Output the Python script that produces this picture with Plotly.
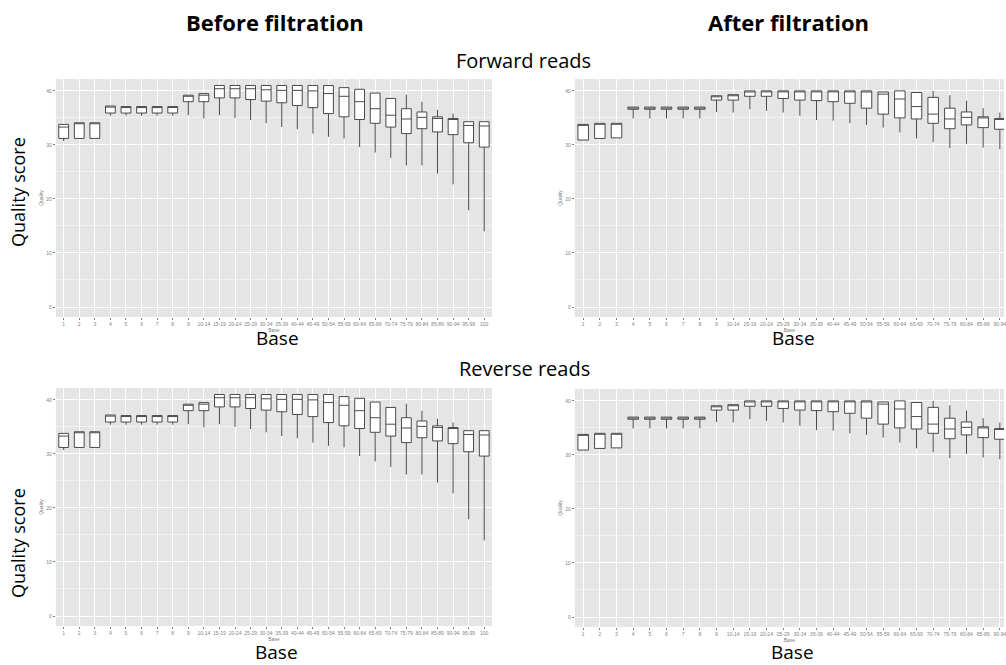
import plotly.graph_objects as go

W, H = 1006, 665

cats = ["1", "2", "3", "4", "5", "6", "7", "8", "9", "10-14", "15-19", "20-24",
        "25-29", "30-34", "35-39", "40-44", "45-49", "50-54", "55-59", "60-64",
        "65-69", "70-74", "75-79", "80-84", "85-89", "90-94", "95-99", "100"]

# Before filtration (quality per base position)
before_q3 = [33.8, 34.1, 34.1, 37.2, 37.1, 37.1, 37.1, 37.1, 39.2, 39.5, 41.0, 41.0, 41.0, 41.0,
             41.0, 41.0, 41.0, 41.0, 40.6, 40.3, 39.6, 38.6, 36.7, 36.1, 35.2, 34.9, 34.3, 34.3]
before_med = [33.3, 34.0, 34.0, 37.0, 37.0, 37.0, 37.0, 37.0, 39.0, 39.2, 40.4, 40.4, 40.4, 40.2,
              40.1, 40.1, 40.0, 39.5, 39.0, 38.0, 36.7, 35.5, 34.8, 35.1, 34.9, 34.7, 33.6, 33.5]
before_q1 = [31.2, 31.2, 31.2, 35.9, 35.9, 35.9, 35.9, 35.9, 38.0, 38.0, 38.7, 38.7, 38.4, 38.1,
             37.8, 37.3, 36.9, 35.8, 35.2, 34.7, 34.0, 33.3, 32.1, 33.0, 32.4, 31.9, 30.4, 29.6]
before_low = [30.7, 31.2, 31.2, 35.4, 35.4, 35.4, 35.4, 35.4, 35.5, 34.9, 35.5, 35.0, 34.6, 34.0,
              33.3, 32.9, 32.1, 31.5, 31.2, 29.6, 28.6, 27.6, 26.2, 26.2, 24.7, 22.7, 17.9, 14.0]
before_up = [33.8, 34.1, 34.1, 37.2, 37.1, 37.1, 37.1, 37.1, 39.2, 39.5, 41.0, 41.0, 41.0, 41.0,
             41.0, 41.0, 41.0, 41.0, 40.6, 40.3, 39.6, 38.6, 39.3, 38.0, 36.5, 35.8, 34.3, 34.3]

# After filtration
after_q3 = [33.8, 34.0, 34.0, 37.0, 37.0, 37.0, 37.0, 37.0, 39.1, 39.3, 40.0, 40.0, 40.0, 40.0,
            40.0, 40.0, 40.0, 40.0, 39.8, 40.0, 39.7, 38.8, 36.8, 36.1, 35.2, 34.9, 34.3, 34.3]
after_med = [33.7, 33.9, 34.0, 36.9, 36.8, 36.9, 36.9, 36.9, 38.9, 39.1, 39.8, 39.9, 39.9, 39.9,
             39.9, 39.9, 39.9, 39.8, 39.4, 38.5, 37.1, 35.7, 34.8, 35.1, 35.0, 34.8, 33.8, 33.6]
after_q1 = [30.9, 31.2, 31.3, 36.6, 36.6, 36.6, 36.6, 36.6, 38.3, 38.3, 39.0, 39.0, 38.6, 38.3,
            38.2, 38.0, 37.7, 36.8, 35.7, 35.0, 34.8, 34.0, 33.0, 33.7, 33.2, 32.9, 31.8, 31.2]
after_low = [30.9, 31.2, 31.3, 34.9, 34.9, 34.9, 34.9, 34.9, 36.1, 36.0, 36.6, 36.3, 36.0, 35.4,
             34.6, 34.5, 34.0, 33.7, 33.2, 32.3, 31.2, 30.5, 29.4, 30.2, 29.5, 29.2, 28.0, 27.5]
after_up = [33.8, 34.0, 34.0, 37.0, 37.0, 37.0, 37.0, 37.0, 39.1, 39.3, 40.0, 40.0, 40.0, 40.0,
            40.0, 40.0, 40.0, 40.0, 39.8, 40.0, 39.7, 40.0, 39.2, 38.2, 36.8, 36.0, 34.3, 34.3]

y_ticks = [0, 10, 20, 30, 40]


def px_x(x):
    return x / W


def px_y(y):
    return 1 - y / H


panels = [
    # (xaxis id, yaxis id, data, x domain px, y domain px, visible cats)
    ("x", "y", (before_q1, before_med, before_q3, before_low, before_up), (56, 493), (79, 317), None),
    ("x2", "y2", (after_q1, after_med, after_q3, after_low, after_up), (576, 1006), (79, 317), 25.25),
    ("x3", "y3", (before_q1, before_med, before_q3, before_low, before_up), (56, 493), (388, 626), None),
    ("x4", "y4", (after_q1, after_med, after_q3, after_low, after_up), (576, 1006), (389, 627), 25.25),
]

fig = go.Figure()
grey = "#7f7f7f"
layout = {}
for xa, ya, (q1, med, q3, low, up), (x0, x1), (y0, y1), xmax in panels:
    fig.add_trace(go.Box(
        x=cats, q1=q1, median=med, q3=q3, lowerfence=low, upperfence=up,
        fillcolor="white", line=dict(color="#4a4a4a", width=1),
        whiskerwidth=0, boxpoints=False, showlegend=False, hoverinfo="skip",
        xaxis=xa, yaxis=ya,
    ))
    xkey = "xaxis" + xa[1:]
    ykey = "yaxis" + ya[1:]
    layout[xkey] = dict(
        domain=[px_x(x0), px_x(x1)], anchor=ya, type="category",
        categoryorder="array", categoryarray=cats,
        range=[-0.5, xmax if xmax is not None else len(cats) - 0.5],
        tickmode="array", tickvals=cats, ticktext=cats, tickangle=0,
        showgrid=True, gridcolor="white", gridwidth=1,
        ticks="outside", ticklen=2, tickcolor=grey,
        tickfont=dict(size=5, color=grey, family="Arial"),
        showline=False, zeroline=False,
        title=dict(text="Base", font=dict(size=5, color=grey, family="Arial"), standoff=2),
    )
    layout[ykey] = dict(
        domain=[px_y(y1), px_y(y0)], anchor=xa, range=[-1.85, 42.2],
        tickmode="array", tickvals=y_ticks, ticktext=[str(v) for v in y_ticks],
        showgrid=True, gridcolor="white", gridwidth=1,
        minor=dict(tickmode="array", tickvals=[5, 15, 25, 35], showgrid=True,
                   gridcolor="#f2f2f2", gridwidth=0.5, ticks=""),
        ticks="outside", ticklen=2, tickcolor=grey,
        tickfont=dict(size=5, color=grey, family="Arial"),
        showline=False, zeroline=False,
        title=dict(text="Quality", font=dict(size=5, color=grey, family="Arial"), standoff=2),
    )

big_font = "Open Sans"
annotations = []


def add_text(text, x, y, size, bold=False, angle=0):
    annotations.append(dict(
        text=f"<b>{text}</b>" if bold else text, x=px_x(x), y=px_y(y),
        xref="paper", yref="paper", xanchor="center", yanchor="middle",
        showarrow=False, textangle=angle, borderpad=0,
        font=dict(family=big_font, size=size, color="black"),
    ))


add_text("Before filtration", 276, 22, 22, bold=True)
add_text("After filtration", 790, 22, 22, bold=True)
add_text("Forward reads", 525, 60, 20)
add_text("Reverse reads", 526, 368, 20)
add_text("Quality score", 18, 192, 18, angle=-90)
add_text("Quality score", 18, 543, 18, angle=-90)
add_text("Base", 278, 338, 19)
add_text("Base", 795, 338, 19)
add_text("Base", 277, 652, 19)
add_text("Base", 794, 652, 19)

fig.update_layout(
    width=W, height=H,
    margin=dict(l=0, r=0, t=0, b=0),
    paper_bgcolor="white", plot_bgcolor="#e5e5e5",
    boxgap=0.1, showlegend=False,
    annotations=annotations,
    **layout,
)

fig.write_html("out.html")
